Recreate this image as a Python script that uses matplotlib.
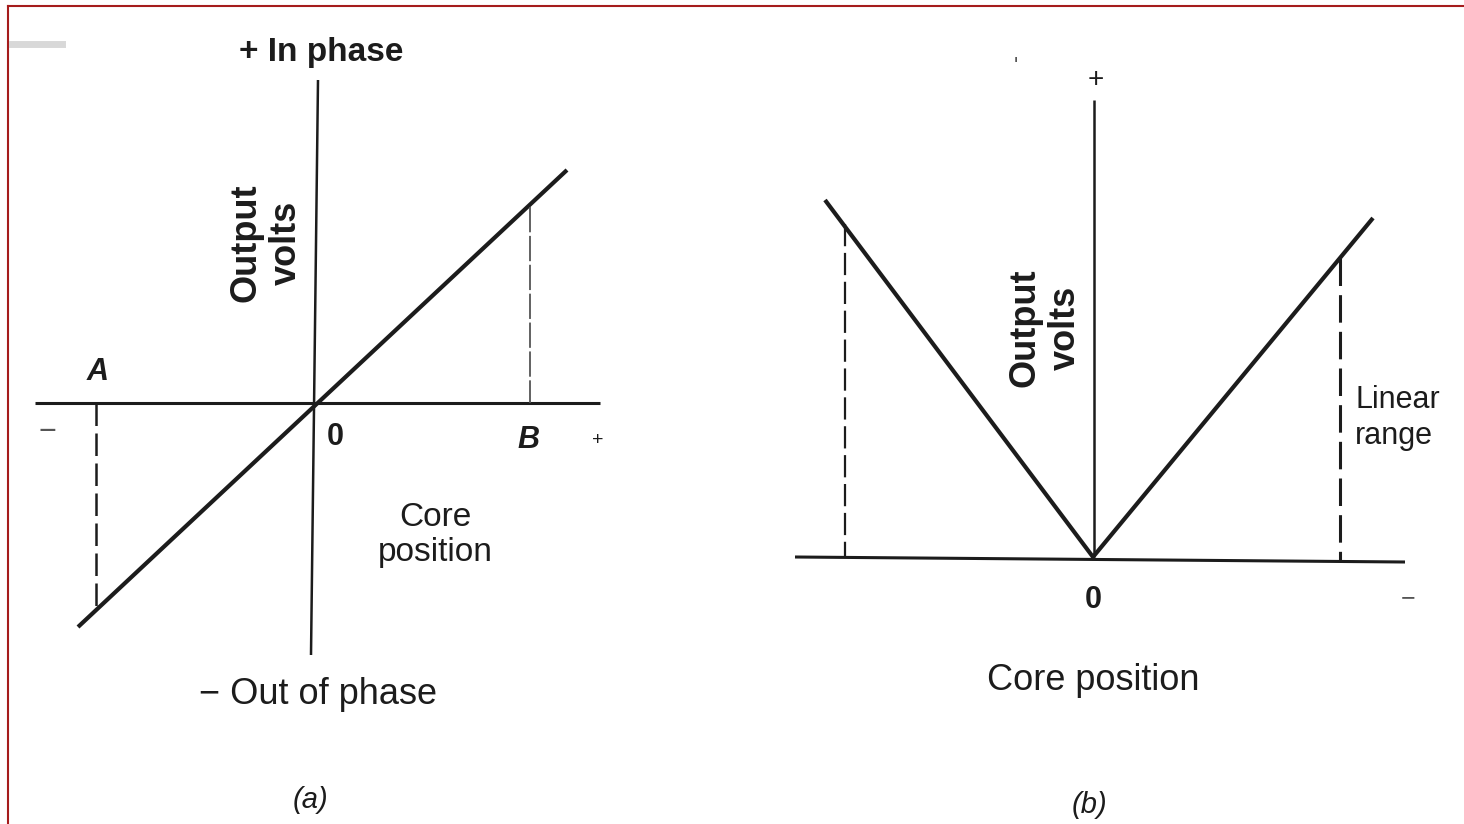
import matplotlib
matplotlib.use('Agg')
import matplotlib.pyplot as plt

# diagram (a): pixel coordinates
a_haxis_x = [35, 600]
a_haxis_y = [403, 403]
a_vaxis_x = [318, 311]
a_vaxis_y = [80, 655]
a_curve_x = [78, 567]
a_curve_y = [627, 170]
a_dashA_x = [96, 96]
a_dashA_y = [403, 610]
a_dashB_x = [530, 530]
a_dashB_y = [207, 403]

# diagram (b)
b_haxis_x = [795, 1405]
b_haxis_y = [557, 562]
b_vaxis_x = [1094, 1094]
b_vaxis_y = [100, 557]
b_curve_x = [825, 1093, 1373]
b_curve_y = [200, 557, 218]
b_dashL_x = [845, 845]
b_dashL_y = [224, 557]
b_dashR_x = [1340, 1340]
b_dashR_y = [258, 561]

ink = '#1c1c1c'
fnt = 'Liberation Sans'

fig = plt.figure(figsize=(14.64, 8.24), dpi=100)
ax = fig.add_axes([0, 0, 1, 1])
ax.set_xlim(0, 1464)
ax.set_ylim(824, 0)
ax.axis('off')

# red frame of the scan
ax.plot([8, 1464], [6, 6], color='#a51c1c', lw=1.5)
ax.plot([8, 8], [6, 824], color='#a51c1c', lw=1.5)
ax.plot([12, 62], [44, 44], color='#d8d8d8', lw=5)

# ---- (a)
ax.plot(a_haxis_x, a_haxis_y, color=ink, lw=2.2, solid_capstyle='butt')
ax.plot(a_vaxis_x, a_vaxis_y, color=ink, lw=1.8, solid_capstyle='butt')
ax.plot(a_curve_x, a_curve_y, color=ink, lw=3.0, solid_capstyle='butt')
ax.plot(a_dashA_x, a_dashA_y, color=ink, lw=1.8, dashes=(9, 3))
ax.plot(a_dashB_x, a_dashB_y, color='#555555', lw=1.3, dashes=(14, 2))

ax.text(321, 52, '+ In phase', fontsize=24, family=fnt, color=ink, ha='center', va='center', weight='bold')
ax.text(266, 243, 'Output\nvolts', fontsize=26, family=fnt, color=ink, ha='center', va='center',
        rotation=90, linespacing=1.2, weight='bold')
ax.text(98, 372, 'A', fontsize=22, family=fnt, color=ink, ha='center', va='center', style='italic', weight='bold')
ax.text(47, 432, '−', fontsize=22, family=fnt, color='#555555', ha='center', va='center')
ax.text(335, 437, '0', fontsize=22, family=fnt, color=ink, ha='center', va='center', weight='bold')
ax.text(528, 440, 'B', fontsize=22, family=fnt, color=ink, ha='center', va='center', style='italic', weight='bold')
ax.text(598, 440, '+', fontsize=14, family=fnt, color=ink, ha='center', va='center')
ax.text(435, 535, 'Core\nposition', fontsize=24, family=fnt, color=ink, ha='center', va='center',
        linespacing=1.2)
ax.text(318, 695, '− Out of phase', fontsize=26, family=fnt, color=ink, ha='center', va='center')
ax.text(311, 800, '(a)', fontsize=21, family=fnt, color=ink, ha='center', va='center', style='italic')

# ---- (b)
ax.plot(b_haxis_x, b_haxis_y, color=ink, lw=2.2, solid_capstyle='butt')
ax.plot(b_vaxis_x, b_vaxis_y, color=ink, lw=1.8, solid_capstyle='butt')
ax.plot(b_curve_x, b_curve_y, color=ink, lw=3.0, solid_capstyle='butt', solid_joinstyle='miter')
ax.plot(b_dashL_x, b_dashL_y, color=ink, lw=1.6, dashes=(10, 3))
ax.plot(b_dashR_x, b_dashR_y, color=ink, lw=2.2, dashes=(9, 3))

ax.text(1096, 80, '+', fontsize=20, family=fnt, color=ink, ha='center', va='center')
ax.text(1016, 66, "'", fontsize=16, family=fnt, color='#555555', ha='center', va='center')
ax.text(1045, 328, 'Output\nvolts', fontsize=26, family=fnt, color=ink, ha='center', va='center',
        rotation=90, linespacing=1.2, weight='bold')
ax.text(1355, 418, 'Linear\nrange', fontsize=22, family=fnt, color=ink, ha='left', va='center',
        linespacing=1.3)
ax.text(1093, 600, '0', fontsize=22, family=fnt, color=ink, ha='center', va='center', weight='bold')
ax.text(1408, 598, '−', fontsize=18, family=fnt, color='#555555', ha='center', va='center')
ax.text(1093, 680, 'Core position', fontsize=26, family=fnt, color=ink, ha='center', va='center')
ax.text(1090, 805, '(b)', fontsize=21, family=fnt, color=ink, ha='center', va='center', style='italic')

fig.savefig('out.png', dpi=100)
plt.close(fig)
